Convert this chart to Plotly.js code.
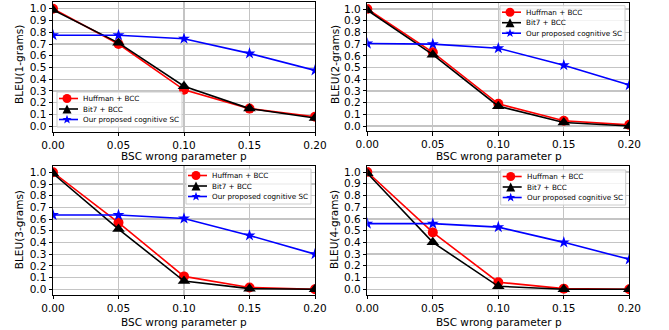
<!DOCTYPE html>
<html>
<head>
<meta charset="utf-8">
<script src="https://cdn.plot.ly/plotly-3.0.1.min.js"></script>
<style>html,body{margin:0;padding:0;background:#fff;} #chart{width:669px;height:330px;}</style>
</head>
<body>
<div id="chart"></div>
<script>
// ---- data ----
var pValues = [0.00, 0.05, 0.10, 0.15, 0.20];
var seriesNames = ["Huffman + BCC", "Bit7 + BCC", "Our proposed cognitive SC"];
var yTitles = ["BLEU(1-grams)", "BLEU(2-grams)", "BLEU(3-grams)", "BLEU(4-grams)"];
var xTitle = "BSC wrong parameter p";

var huffman1 = [1.00, 0.70, 0.31, 0.15, 0.08];
var bit7_1   = [0.99, 0.71, 0.34, 0.15, 0.07];
var ours1    = [0.775, 0.775, 0.745, 0.62, 0.475];

var huffman2 = [1.00, 0.63, 0.19, 0.045, 0.01];
var bit7_2   = [0.99, 0.61, 0.17, 0.03, 0.00];
var ours2    = [0.705, 0.70, 0.665, 0.52, 0.35];

var huffman3 = [1.00, 0.57, 0.11, 0.015, 0.00];
var bit7_3   = [0.99, 0.515, 0.07, 0.005, 0.00];
var ours3    = [0.635, 0.635, 0.605, 0.46, 0.30];

var huffman4 = [1.00, 0.485, 0.06, 0.005, 0.00];
var bit7_4   = [0.99, 0.40, 0.025, 0.00, 0.00];
var ours4    = [0.56, 0.56, 0.53, 0.40, 0.255];

var panels = [
  [huffman1, bit7_1, ours1],
  [huffman2, bit7_2, ours2],
  [huffman3, bit7_3, ours3],
  [huffman4, bit7_4, ours4]
];

// ---- styling / layout ----
var W = 669, H = 330;
var FONT = "DejaVu Sans, Liberation Sans, sans-serif";
var colors = ["#ff0000", "#000000", "#0000ff"];
var symbols = ["circle", "triangle-up", "star"];
var msizes = [10, 11, 9];

// panel boxes in pixels: [left, right, top, bottom]
var boxes = [
  [53, 315, 2.3, 131.5],
  [367.3, 629.3, 2.6, 131.3],
  [53, 315, 165.9, 294.5],
  [367.3, 629.3, 165.6, 294.5]
];
// legend boxes: [left, top]
var legendPos = [[57, 92], [500, 5.7], [186, 169], [500.7, 170]];
var xTitlePos = [[184, 155.5], [499, 155.5], [184, 322], [499, 322]];
var yTitleX = [19, 335, 19, 334];

function px(x) { return x / W; }
function py(y) { return 1 - y / H; }

var traces = [];
var layout = {
  width: W, height: H,
  margin: {l: 0, r: 0, t: 0, b: 0},
  paper_bgcolor: "#fff", plot_bgcolor: "#fff",
  showlegend: false,
  font: {family: FONT, size: 10, color: "#000"},
  shapes: [], annotations: []
};

panels.forEach(function (series, i) {
  var n = i === 0 ? "" : String(i + 1);
  var b = boxes[i];
  series.forEach(function (vals, s) {
    traces.push({
      x: pValues, y: vals, name: seriesNames[s],
      xaxis: "x" + n, yaxis: "y" + n,
      type: "scatter", mode: "lines+markers",
      line: {color: colors[s], width: 1.6},
      marker: {symbol: symbols[s], size: msizes[s], color: colors[s], line: {width: 0}},
      cliponaxis: true
    });
  });
  var axCommon = {
    showline: true, mirror: true, linecolor: "#000", linewidth: 1,
    showgrid: true, gridcolor: "#c4c4c4", gridwidth: 1.2,
    zeroline: false, ticks: "outside", ticklen: 3.5, tickcolor: "#000", tickwidth: 1,
    tickfont: {family: FONT, size: 10.5, color: "#000"}, fixedrange: true
  };
  layout["xaxis" + n] = Object.assign({}, axCommon, {
    domain: [px(b[0]), px(b[1])], anchor: "y" + n,
    range: [0, 0.2], tickvals: pValues, tickformat: ".2f"
  });
  layout["yaxis" + n] = Object.assign({}, axCommon, {
    domain: [py(b[3]), py(b[2])], anchor: "x" + n,
    range: [-0.045, 1.055], dtick: 0.1, tick0: 0, tickformat: ".1f"
  });

  // axis titles
  layout.annotations.push({
    text: xTitle, xref: "paper", yref: "paper",
    x: px(xTitlePos[i][0]), y: py(xTitlePos[i][1]),
    xanchor: "center", yanchor: "middle", showarrow: false,
    font: {family: FONT, size: 10.5, color: "#000"}
  });
  layout.annotations.push({
    text: yTitles[i], xref: "paper", yref: "paper",
    x: px(yTitleX[i]), y: py((b[2] + b[3]) / 2 - (i < 2 ? 2 : 0)), textangle: -90,
    xanchor: "center", yanchor: "middle", showarrow: false,
    font: {family: FONT, size: 10.5, color: "#000"}
  });

  // legend (drawn as layout decoration)
  var L = legendPos[i][0], T = legendPos[i][1];
  layout.shapes.push({
    type: "rect", xref: "paper", yref: "paper",
    x0: px(L), x1: px(L + 125), y0: py(T + 35), y1: py(T),
    line: {color: "#cccccc", width: 1}, fillcolor: "rgba(255,255,255,0.8)", layer: "above"
  });
  var rows = [6.5, 17, 27.5];
  seriesNames.forEach(function (name, s) {
    var ry = T + rows[s];
    layout.shapes.push({
      type: "line", xref: "paper", yref: "paper",
      x0: px(L + 2), x1: px(L + 21), y0: py(ry), y1: py(ry),
      line: {color: colors[s], width: 1.6}, layer: "above"
    });
    var mk = {xref: "paper", yref: "paper", xsizemode: "pixel", ysizemode: "pixel",
              xanchor: px(L + 10), yanchor: py(ry), fillcolor: colors[s],
              line: {color: colors[s], width: 0}, layer: "above"};
    if (s === 0) {
      layout.shapes.push(Object.assign({type: "circle", x0: -4.5, x1: 4.5, y0: -4.5, y1: 4.5}, mk));
    } else if (s === 1) {
      layout.shapes.push(Object.assign({type: "path", path: "M 0 4.5 L 4.5 -4.5 L -4.5 -4.5 Z"}, mk));
    } else {
      var pts = [];
      for (var k = 0; k < 10; k++) {
        var a = Math.PI / 2 + k * Math.PI / 5;
        var r = k % 2 === 0 ? 4.8 : 1.9;
        pts.push((k === 0 ? "M " : "L ") + (r * Math.cos(a)).toFixed(2) + " " + (r * Math.sin(a)).toFixed(2));
      }
      layout.shapes.push(Object.assign({type: "path", path: pts.join(" ") + " Z"}, mk));
    }
    layout.annotations.push({
      text: name, xref: "paper", yref: "paper",
      x: px(L + 24), y: py(ry), xanchor: "left", yanchor: "middle", showarrow: false,
      font: {family: FONT, size: 7.2, color: "#000"}
    });
  });
});

Plotly.newPlot("chart", traces, layout, {staticPlot: true, displayModeBar: false});
</script>
</body>
</html>
